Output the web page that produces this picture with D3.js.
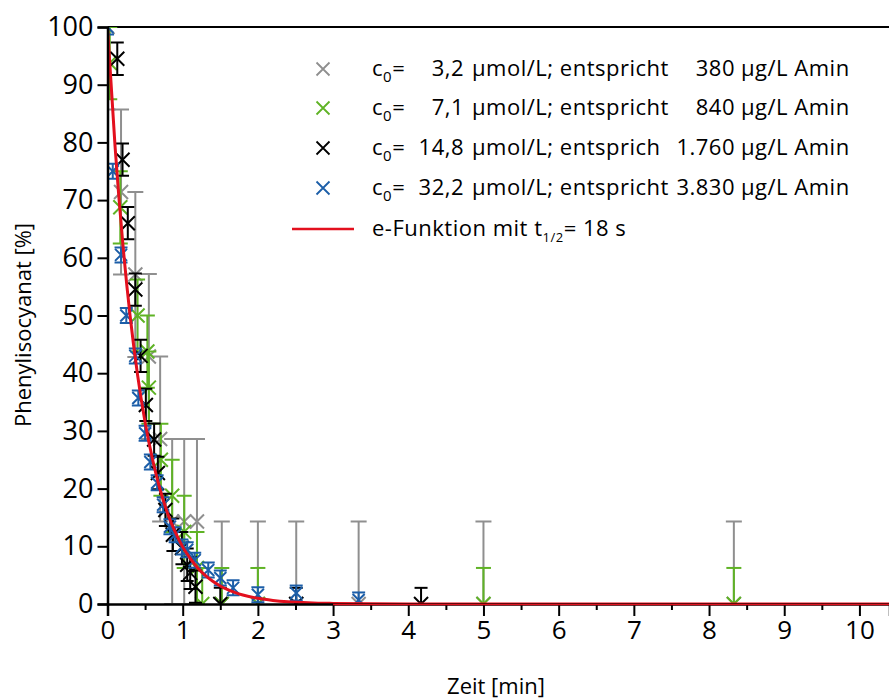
<!DOCTYPE html>
<html>
<head>
<meta charset="utf-8">
<script src="https://cdn.jsdelivr.net/npm/d3@7"></script>
<style>
  html, body { margin: 0; padding: 0; background: #fff; }
  svg { display: block; }
  text { font-family: "Open Sans", "DejaVu Sans", sans-serif; fill: #000; }
</style>
</head>
<body>
<svg id="chart" width="889" height="699"></svg>
<script>
// ---------------- DATA ----------------
const xTicks = [0, 1, 2, 3, 4, 5, 6, 7, 8, 9, 10];
const xMinorTicks = [0.5, 1.5, 2.5, 3.5, 4.5, 5.5, 6.5, 7.5, 8.5, 9.5, 10.5];
const yTicks = [0, 10, 20, 30, 40, 50, 60, 70, 80, 90, 100];

// series 1: c0 = 3,2 µmol/L (grey)
const grayT = [0, 0.18, 0.37, 0.55, 0.70, 0.86, 1.02, 1.19, 1.52, 2.00, 2.51, 3.34, 5.00, 8.33];
const grayV = [100, 71.4, 57.1, 42.9, 28.6, 14.3, 14.3, 14.3, 0, 0, 0, 0, 0, 0];
const grayErr = [14.3, 14.3, 14.3, 14.3, 14.3, 14.3, 14.3, 14.3, 14.3, 14.3, 14.3, 14.3, 14.3, 14.3];

// series 2: c0 = 7,1 µmol/L (green)
const greenT = [0.03, 0.17, 0.40, 0.53, 0.55, 0.71, 0.86, 1.02, 1.19, 1.26, 1.52, 2.00, 5.00, 8.33];
const greenV = [93.75, 68.75, 50, 43.75, 37.5, 25, 18.75, 12.5, 6.25, 0, 0, 0, 0, 0];
const greenErr = [6.25, 6.25, 6.25, 6.25, 6.25, 6.25, 6.25, 6.25, 6.25, 6.25, 6.25, 6.25, 6.25, 6.25];

// series 3: c0 = 14,8 µmol/L (black)
const blackT = [0.13, 0.20, 0.27, 0.37, 0.44, 0.51, 0.62, 0.67, 0.77, 0.87, 0.99, 1.06, 1.10, 1.17, 1.50, 2.51, 4.17];
const blackV = [94.5, 77, 66, 54.5, 43, 34.5, 28.5, 22.7, 16.3, 12, 9.7, 6.8, 5.4, 3, 0, 0, 0];
const blackErr = [2.8, 2.8, 2.8, 2.8, 2.8, 2.8, 2.8, 2.8, 2.8, 2.8, 2.8, 2.8, 2.8, 2.8, 2.8, 2.8, 2.8];

// series 4: c0 = 32,2 µmol/L (blue)
const blueT = [0, 0.07, 0.18, 0.25, 0.37, 0.41, 0.50, 0.57, 0.66, 0.74, 0.83, 0.90, 0.99, 1.06, 1.16, 1.34, 1.50, 1.67, 2.00, 2.51, 3.34];
const blueV = [100, 75, 60.5, 50, 43, 35.7, 29.6, 24.6, 21, 17.2, 13.4, 12, 9.9, 9.4, 7.6, 5.9, 4.5, 2.8, 1.6, 1.9, 0.7];
const blueErr = [1.3, 1.3, 1.3, 1.3, 1.3, 1.3, 1.3, 1.3, 1.3, 1.3, 1.3, 1.3, 1.3, 1.3, 1.3, 1.3, 1.3, 1.3, 1.3, 1.3, 1.3];

// red curve: e-Funktion, t1/2 = 18 s
const curveT = [0, 0.1, 0.2, 0.3, 0.4, 0.5, 0.6, 0.7, 0.8, 0.9, 1.0, 1.1, 1.2, 1.3, 1.4, 1.5, 1.6, 1.7, 1.8, 2.0, 2.2, 2.4, 2.6, 2.8, 3.0, 3.5, 4.0, 5.0, 6.0, 8.0, 10.4];
const curveV = [100, 79.4, 63.0, 50, 39.7, 31.5, 25, 19.8, 15.7, 12.5, 9.9, 7.9, 6.25, 4.96, 3.94, 3.13, 2.48, 1.97, 1.56, 0.98, 0.62, 0.39, 0.25, 0.15, 0.1, 0.03, 0.01, 0, 0, 0, 0];

const legendConc = ["3,2", "7,1", "14,8", "32,2"];
const legendWord = ["entspricht", "entspricht", "entsprich", "entspricht"];
const legendAmount = ["380", "840", "1.760", "3.830"];

// ---------------- CHART ----------------
const svg = d3.select("#chart");
const x = d3.scaleLinear().domain([0, 10.4]).range([107.5, 889.5]);
const y = d3.scaleLinear().domain([0, 100]).range([604, 27]);

const colors = { gray: "#8f8f8f", green: "#5fb325", black: "#000000", blue: "#1c5ea8", red: "#e3101e" };

svg.append("defs").append("clipPath").attr("id", "plotclip")
  .append("rect").attr("x", x(0)).attr("y", y(100)).attr("width", x(10.4) - x(0)).attr("height", y(0) - y(100));

// top frame line
svg.append("line").attr("x1", x(0)).attr("x2", 889).attr("y1", y(100)).attr("y2", y(100))
  .attr("stroke", "#000").attr("stroke-width", 2);

const plot = svg.append("g").attr("clip-path", "url(#plotclip)");

function drawSeries(T, V, E, color, capHalf, markHalf, sw) {
  const g = plot.append("g");
  const data = T.map((t, i) => ({ t, v: V[i], e: E[i] }));
  const eb = g.selectAll("g.eb").data(data).enter().append("g");
  eb.append("line")
    .attr("x1", d => x(d.t)).attr("x2", d => x(d.t))
    .attr("y1", d => y(d.v - d.e)).attr("y2", d => y(d.v + d.e))
    .attr("stroke", color).attr("stroke-width", sw);
  eb.append("line")
    .attr("x1", d => x(d.t) - capHalf).attr("x2", d => x(d.t) + capHalf)
    .attr("y1", d => y(d.v + d.e)).attr("y2", d => y(d.v + d.e))
    .attr("stroke", color).attr("stroke-width", sw);
  eb.append("line")
    .attr("x1", d => x(d.t) - capHalf).attr("x2", d => x(d.t) + capHalf)
    .attr("y1", d => y(d.v - d.e)).attr("y2", d => y(d.v - d.e))
    .attr("stroke", color).attr("stroke-width", sw);
  g.selectAll("path.mk").data(data).enter().append("path")
    .attr("d", d => {
      const cx = x(d.t), cy = y(d.v), h = markHalf;
      return `M${cx - h},${cy - h}L${cx + h},${cy + h}M${cx - h},${cy + h}L${cx + h},${cy - h}`;
    })
    .attr("fill", "none").attr("stroke", color).attr("stroke-width", 2);
}

drawSeries(grayT, grayV, grayErr, colors.gray, 8, 7, 2);
drawSeries(greenT, greenV, greenErr, colors.green, 7.5, 7, 2);
drawSeries(blackT, blackV, blackErr, colors.black, 6.5, 7, 2);
drawSeries(blueT, blueV, blueErr, colors.blue, 6.5, 6, 2);

// red exponential curve
const line = d3.line().x(d => x(d[0])).y(d => y(d[1])).curve(d3.curveMonotoneX);
plot.append("path")
  .datum(curveT.map((t, i) => [t, curveV[i]]))
  .attr("d", line)
  .attr("fill", "none").attr("stroke", colors.red).attr("stroke-width", 3);

// axes
const yAxis = svg.append("g").attr("transform", `translate(${x(0)},0)`)
  .call(d3.axisLeft(y).tickValues(yTicks).tickSize(10).tickPadding(4).tickFormat(d3.format("d")));
yAxis.select(".domain").attr("stroke-width", 2.5);
yAxis.selectAll(".tick line").attr("stroke-width", 2);
yAxis.selectAll("text").attr("font-size", 27).style("font-family", "'Open Sans', sans-serif");

const xAxis = svg.append("g").attr("transform", `translate(0,${y(0)})`)
  .call(d3.axisBottom(x).tickValues(xTicks).tickSize(12).tickPadding(5).tickFormat(d3.format("d")));
xAxis.select(".domain").attr("stroke-width", 2.5);
xAxis.selectAll(".tick line").attr("stroke-width", 2);
xAxis.selectAll("text").attr("font-size", 26).style("font-family", "'Open Sans', sans-serif");

const xMinor = svg.append("g").attr("transform", `translate(0,${y(0)})`)
  .call(d3.axisBottom(x).tickValues(xMinorTicks.filter(v => x(v) < 889)).tickSize(6).tickFormat(""));
xMinor.select(".domain").remove();
xMinor.selectAll(".tick line").attr("stroke-width", 2);

// red line over the x axis at zero
svg.append("line").attr("x1", x(3)).attr("x2", 889).attr("y1", y(0) + 0.5).attr("y2", y(0) + 0.5)
  .attr("stroke", colors.red).attr("stroke-width", 1.5);

// axis titles
svg.append("text").attr("x", 496).attr("y", 694).attr("text-anchor", "middle")
  .attr("font-size", 22).text("Zeit [min]");
svg.append("text").attr("transform", "translate(31,325) rotate(-90)").attr("text-anchor", "middle")
  .attr("font-size", 22).text("Phenylisocyanat [%]");

// legend
const legColors = [colors.gray, colors.green, colors.black, colors.blue];
const rowY = [69, 108, 148, 188];
const leg = svg.append("g").style("letter-spacing", "0.5px");
legColors.forEach((c, i) => {
  const cy = rowY[i], cx = 323, h = 6.5;
  leg.append("path")
    .attr("d", `M${cx - h},${cy - h}L${cx + h},${cy + h}M${cx - h},${cy + h}L${cx + h},${cy - h}`)
    .attr("stroke", c).attr("stroke-width", 1.8).attr("fill", "none");
  const t = leg.append("text").attr("x", 372).attr("y", cy + 7).attr("font-size", 22);
  t.append("tspan").text("c");
  t.append("tspan").attr("font-size", 15).attr("dy", 6).text("0");
  t.append("tspan").attr("dy", -6).text("=");
  leg.append("text").attr("x", 464).attr("y", cy + 7).attr("font-size", 22).attr("text-anchor", "end")
    .text(legendConc[i]);
  leg.append("text").attr("x", 472).attr("y", cy + 7).attr("font-size", 22)
    .text("µmol/L; " + legendWord[i]);
  leg.append("text").attr("x", 735).attr("y", cy + 7).attr("font-size", 22).attr("text-anchor", "end")
    .text(legendAmount[i]);
  leg.append("text").attr("x", 741).attr("y", cy + 7).attr("font-size", 22)
    .text("µg/L Amin");
});
leg.append("line").attr("x1", 292).attr("x2", 354).attr("y1", 229).attr("y2", 229)
  .attr("stroke", colors.red).attr("stroke-width", 2.5);
const ft = leg.append("text").attr("x", 372).attr("y", 236).attr("font-size", 22);
ft.append("tspan").text("e-Funktion mit t");
ft.append("tspan").attr("font-size", 13).attr("dy", 6).text("1/2");
ft.append("tspan").attr("dy", -6).text("= 18 s");
</script>
</body>
</html>
